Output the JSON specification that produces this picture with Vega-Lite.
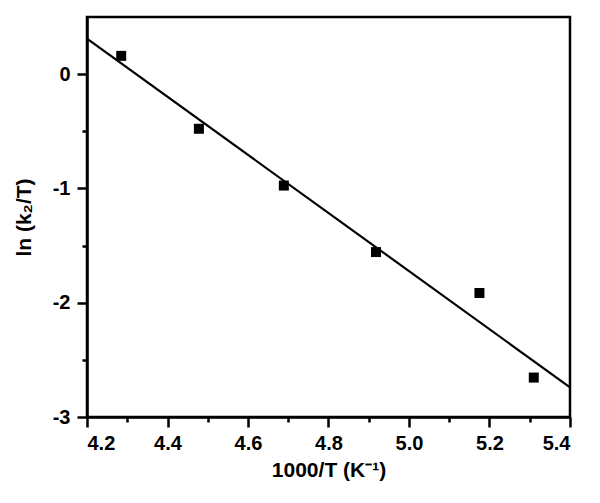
{
  "$schema": "https://vega.github.io/schema/vega-lite/v6.json",
  "width": 483,
  "height": 400,
  "autosize": "none",
  "padding": {"left": 87, "top": 17, "right": 30, "bottom": 86},
  "background": "white",
  "config": {
    "view": {"stroke": "black", "strokeWidth": 2.5},
    "axis": {"grid": false, "domainColor": "black", "domainWidth": 2.5, "tickColor": "black", "tickWidth": 2.5,
      "labelFont": "Liberation Sans", "labelFontWeight": "bold", "labelFontSize": 20, "labelColor": "black",
      "titleFont": "Liberation Sans", "titleFontWeight": "bold", "titleFontSize": 21, "titleColor": "black"}
  },
  "datasets": {
    "pts": [
      {"x": 4.285, "y": 0.16},
      {"x": 4.478, "y": -0.478},
      {"x": 4.689, "y": -0.975},
      {"x": 4.918, "y": -1.557},
      {"x": 5.175, "y": -1.915},
      {"x": 5.31, "y": -2.655}
    ],
    "fit": [
      {"x": 4.2, "y": 0.31},
      {"x": 5.4, "y": -2.74}
    ],
    "minor": [
      {"x": 4.3, "y": -2.5}
    ]
  },
  "layer": [
    {
      "data": {"name": "minor"},
      "mark": {"type": "point", "opacity": 0},
      "encoding": {
        "x": {"field": "x", "type": "quantitative", "scale": {"domain": [4.2, 5.4], "nice": false, "zero": false},
          "axis": {"orient": "bottom", "values": [4.3, 4.5, 4.7, 4.9, 5.1, 5.3], "labels": false, "tickSize": 5, "domain": false, "title": null}},
        "y": {"field": "y", "type": "quantitative", "scale": {"domain": [-3, 0.5], "nice": false, "zero": false},
          "axis": {"orient": "left", "values": [-2.5, -1.5, -0.5], "labels": false, "tickSize": 5, "domain": false, "title": null}}
      }
    },
    {
      "data": {"name": "fit"},
      "mark": {"type": "line", "color": "black", "strokeWidth": 2.2, "clip": true},
      "encoding": {
        "x": {"field": "x", "type": "quantitative", "scale": {"domain": [4.2, 5.4], "nice": false, "zero": false},
          "axis": {"orient": "bottom", "values": [4.2, 4.4, 4.6, 4.8, 5.0, 5.2, 5.4], "format": ".1f", "tickSize": 10, "labelPadding": 6, "title": "1000/T (K⁻¹)", "titlePadding": 6}},
        "y": {"field": "y", "type": "quantitative", "scale": {"domain": [-3, 0.5], "nice": false, "zero": false},
          "axis": {"orient": "left", "values": [-3, -2, -1, 0], "tickSize": 10, "labelPadding": 7, "labelExpr": "replace(datum.label, '−', '-')", "title": "ln (k₂/T)", "titlePadding": 18}}
      }
    },
    {
      "data": {"name": "pts"},
      "mark": {"type": "square", "color": "black", "filled": true, "opacity": 1, "size": 100},
      "encoding": {
        "x": {"field": "x", "type": "quantitative", "axis": null},
        "y": {"field": "y", "type": "quantitative", "axis": null}
      }
    }
  ],
  "resolve": {"axis": {"x": "independent", "y": "independent"}}
}
